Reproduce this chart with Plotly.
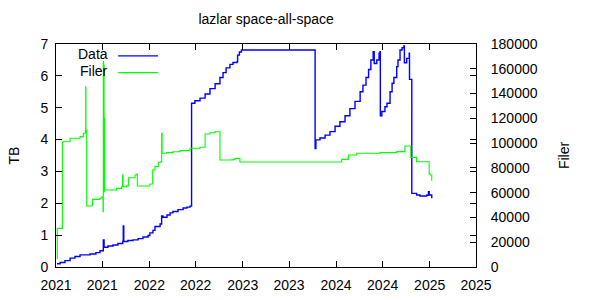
import plotly.graph_objects as go

# ---- data ----
data_dates = [
    "2021-01-05", "2021-01-17", "2021-02-05", "2021-02-25", "2021-03-16", "2021-04-05",
    "2021-05-14", "2021-06-06", "2021-06-22", "2021-07-05", "2021-07-08", "2021-07-23",
    "2021-08-12", "2021-08-31", "2021-09-19", "2021-09-21", "2021-09-23", "2021-10-09",
    "2021-10-29", "2021-11-18", "2021-12-07", "2021-12-27", "2022-01-03", "2022-01-15",
    "2022-01-23", "2022-02-12", "2022-02-18", "2022-02-23", "2022-03-11", "2022-03-23",
    "2022-04-03", "2022-04-23", "2022-05-13", "2022-05-28", "2022-06-09", "2022-06-15",
    "2022-06-28", "2022-07-18", "2022-08-07", "2022-08-26", "2022-09-15", "2022-10-04",
    "2022-10-16", "2022-10-28", "2022-11-12", "2022-11-24", "2022-12-10", "2022-12-12",
    "2022-12-19", "2022-12-27", "2023-10-11", "2023-10-14", "2023-10-30", "2023-11-19",
    "2023-12-08", "2023-12-28", "2024-01-16", "2024-02-05", "2024-02-24", "2024-03-15",
    "2024-04-04", "2024-04-15", "2024-04-27", "2024-05-07", "2024-05-16", "2024-05-25",
    "2024-05-29", "2024-06-08", "2024-06-17", "2024-06-21", "2024-06-22", "2024-06-28",
    "2024-07-10", "2024-07-18", "2024-07-30", "2024-08-07", "2024-08-14", "2024-08-25",
    "2024-08-30", "2024-09-07", "2024-09-15", "2024-09-22", "2024-09-24", "2024-10-03",
    "2024-10-13", "2024-10-14", "2024-10-23", "2024-11-11", "2024-11-24", "2024-12-20",
    "2024-12-27", "2024-12-30", "2025-01-09",
]
data_tb = [
    0.10, 0.14, 0.20, 0.28, 0.33, 0.38,
    0.41, 0.45, 0.51, 0.85, 0.62, 0.66,
    0.69, 0.74, 0.80, 1.29, 0.80, 0.83,
    0.85, 0.89, 0.94, 0.99, 1.07, 1.15,
    1.27, 1.35, 1.60, 1.56, 1.63, 1.70,
    1.74, 1.80, 1.85, 1.88, 1.91, 5.14,
    5.22, 5.30, 5.43, 5.60, 5.75, 5.95,
    6.10, 6.25, 6.36, 6.42, 6.44, 6.65,
    6.75, 6.81, 3.72, 3.99, 4.05, 4.14,
    4.25, 4.42, 4.56, 4.75, 4.97, 5.20,
    5.50, 5.71, 5.95, 6.20, 6.50, 6.76,
    6.39, 6.50, 6.71, 6.76, 4.75, 4.88,
    5.03, 5.14, 5.50, 5.77, 5.95, 6.29,
    6.50, 6.81, 6.88, 6.94, 6.41, 6.55,
    6.71, 5.89, 2.31, 2.26, 2.23, 2.25,
    2.36, 2.26, 2.16,
]

filer_dates = [
    "2021-01-04", "2021-01-06", "2021-01-26", "2021-02-25", "2021-04-05", "2021-04-18",
    "2021-04-26", "2021-04-27", "2021-04-28", "2021-05-01", "2021-05-21", "2021-05-24",
    "2021-06-22", "2021-06-29", "2021-07-04", "2021-07-05", "2021-07-06", "2021-07-07",
    "2021-07-08", "2021-07-09", "2021-07-10", "2021-08-26", "2021-09-14", "2021-09-18",
    "2021-09-20", "2021-10-04", "2021-10-11", "2021-11-06", "2021-11-13", "2021-11-15",
    "2022-01-03", "2022-01-14", "2022-01-23", "2022-02-05", "2022-02-15", "2022-02-18",
    "2022-02-20", "2022-03-10", "2022-04-03", "2022-05-01", "2022-06-09", "2022-07-18",
    "2022-08-07", "2022-08-26", "2022-09-15", "2022-10-04", "2022-11-25", "2022-12-02",
    "2022-12-21", "2024-01-23", "2024-02-18", "2024-03-22", "2024-06-21", "2024-08-25",
    "2024-09-26", "2024-10-19", "2024-11-10", "2024-12-30", "2025-01-04", "2025-01-09",
]
filer_count = [
    7000, 31200, 101100, 103900, 105200, 107900,
    109200, 145500, 110600, 49200, 50000, 54600,
    55500, 56700, 44600, 166000, 60000, 163000,
    61000, 120000, 62200, 63500, 64800, 74300,
    64800, 65500, 72100, 74300, 75100, 65400,
    67000, 78300, 81000, 84500, 85000, 107900,
    91800, 92300, 93000, 93900, 95800, 96600,
    107400, 108400, 109200, 86400, 86900, 87700,
    84800, 86900, 90400, 91800, 92300, 93100,
    97700, 88500, 85000, 75100, 74300, 69700,
]

series_names = ["Data", "Filer"]
series_colors = ["#0000ff", "#00ff00"]
title_text = "lazlar space-all-space"
y1_title = "TB"
y2_title = "Filer"

FONT = "Liberation Sans, Arial, sans-serif"

fig = go.Figure()
fig.add_trace(go.Scatter(
    x=data_dates, y=data_tb, name=series_names[0], mode="lines",
    line=dict(color=series_colors[0], width=1.4, shape="hv"), yaxis="y",
))
fig.add_trace(go.Scatter(
    x=filer_dates, y=filer_count, name=series_names[1], mode="lines",
    line=dict(color=series_colors[1], width=1.1, shape="hv"), yaxis="y2",
))

# legend in gnuplot style: text, then line sample
legend_rows = [(0.955, series_names[0], series_colors[0]), (0.88, series_names[1], series_colors[1])]
for yy, name, col in legend_rows:
    fig.add_annotation(xref="paper", yref="paper", x=0.129, y=yy, text=name,
                       showarrow=False, xanchor="right", yanchor="middle",
                       font=dict(family=FONT, size=14, color="black"))
    fig.add_shape(type="line", xref="paper", yref="paper", x0=0.148, x1=0.243,
                  y0=yy - 0.008, y1=yy - 0.008, line=dict(color=col, width=1.2))

fig.update_layout(
    width=600, height=300,
    margin=dict(l=56, r=124, t=44, b=33, pad=0),
    paper_bgcolor="white", plot_bgcolor="white",
    showlegend=False,
    font=dict(family=FONT, size=14, color="black"),
    title=dict(text=title_text, x=0.4435, xanchor="center", y=0.935, yanchor="middle",
               font=dict(family=FONT, size=14, color="black")),
    xaxis=dict(
        type="date", range=["2021-01-01", "2025-07-01"],
        tick0="2021-01-01", dtick="M6", tickformat="%Y",
        showline=True, linecolor="black", linewidth=1, mirror="ticks",
        ticks="inside", ticklen=6, tickcolor="black",
        showgrid=False, zeroline=False, automargin=False,
        tickfont=dict(family=FONT, size=14, color="black"),
        ticklabelstandoff=5,
    ),
    yaxis=dict(
        range=[0, 7], dtick=1, tick0=0,
        showline=True, linecolor="black", linewidth=1, mirror="ticks",
        ticks="inside", ticklen=6, tickcolor="black",
        showgrid=False, zeroline=False, automargin=False,
        tickfont=dict(family=FONT, size=14, color="black"),
        ticklabelstandoff=4,
        title=dict(text=y1_title, standoff=17, font=dict(family=FONT, size=14, color="black")),
    ),
    yaxis2=dict(
        range=[0, 180000], dtick=20000, tick0=0,
        overlaying="y", side="right",
        showline=True, linecolor="black", linewidth=1,
        ticks="inside", ticklen=6, tickcolor="black",
        showgrid=False, zeroline=False, automargin=False,
        tickformat="d",
        tickfont=dict(family=FONT, size=14, color="black"),
        ticklabelstandoff=11,
        title=dict(text=y2_title, standoff=22, font=dict(family=FONT, size=14, color="black")),
    ),
)

fig.write_html("out.html")
